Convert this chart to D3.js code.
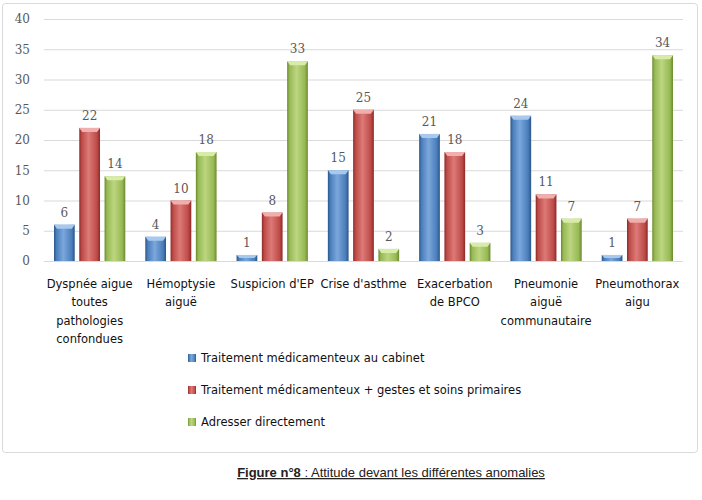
<!DOCTYPE html>
<html>
<head>
	<meta charset="utf-8">
	<script src="https://cdnjs.cloudflare.com/ajax/libs/d3/7.8.5/d3.min.js"></script>
	<style>
	body { margin: 0; background: #fff; }
	.grid line { stroke: #d9d9d9; }
	.axis-y text, .val { font: 12px "DejaVu Serif", serif; fill: #595959; }
	.cat, .legend text { font: 11.5px "DejaVu Sans", sans-serif; fill: #111; }
	</style>
</head>
<body>
	<svg width="702" height="500"></svg>
	<script>
	// categories and values
	let categories = [
		"Dyspnée aigue\ntoutes\npathologies\nconfondues",
		"Hémoptysie\naiguë",
		"Suspicion d'EP",
		"Crise d'asthme",
		"Exacerbation\nde BPCO",
		"Pneumonie\naiguë\ncommunautaire",
		"Pneumothorax\naigu"
	];
	let seriesNames = [
		"Traitement médicamenteux au cabinet",
		"Traitement médicamenteux + gestes et soins primaires",
		"Adresser directement"
	];
	let cabinet = [6, 4, 1, 15, 21, 24, 1];
	let gestes = [22, 10, 8, 25, 18, 11, 7];
	let adresser = [14, 18, 33, 2, 3, 7, 34];
	let yTicks = [0, 5, 10, 15, 20, 25, 30, 35, 40];

	let series = [cabinet, gestes, adresser];
	let colors = [
		{base: "#4a7ebb", light: "#7ba7dc", dark: "#2c5687", top: "#a9c8ee"},
		{base: "#be4b48", light: "#dc7a77", dark: "#8c2a28", top: "#f0aeac"},
		{base: "#98b954", light: "#bcd681", dark: "#6b8a30", top: "#d8ecaa"}
	];

	let svg = d3.select("svg"),
		margin = {top: 19, right: 19, bottom: 239, left: 44},
		width = 702 - margin.left - margin.right,
		height = 500 - margin.top - margin.bottom;

	// chart frame
	svg.append("rect")
		.attr("x", 2.5).attr("y", 3.5)
		.attr("width", 695).attr("height", 449)
		.attr("rx", 3)
		.attr("fill", "#fff")
		.attr("stroke", "#d9d9d9");

	let defs = svg.append("defs");
	colors.forEach(function(c, i) {
		let gr = defs.append("linearGradient").attr("id", "g" + i)
			.attr("x1", "0").attr("x2", "1").attr("y1", "0").attr("y2", "0");
		gr.append("stop").attr("offset", "0").attr("stop-color", c.dark);
		gr.append("stop").attr("offset", "0.12").attr("stop-color", c.base);
		gr.append("stop").attr("offset", "0.45").attr("stop-color", c.light);
		gr.append("stop").attr("offset", "0.85").attr("stop-color", c.base);
		gr.append("stop").attr("offset", "1").attr("stop-color", c.dark);
	});

	let g = svg.append("g").attr("transform", "translate(" + margin.left + "," + margin.top + ")");

	let x0 = d3.scaleBand().domain(categories).range([0, width]).paddingInner(0).paddingOuter(0);
	let x1 = d3.scaleBand().domain([0, 1, 2]).range([10, x0.bandwidth() - 10]).paddingInner(0.18).paddingOuter(0);
	let y = d3.scaleLinear().domain([0, 40]).range([height, 0]);

	// gridlines
	g.append("g").attr("class", "grid")
		.selectAll("line").data(yTicks).enter().append("line")
		.attr("x1", 0).attr("x2", width)
		.attr("y1", function(d) { return y(d) + 0.5; })
		.attr("y2", function(d) { return y(d) + 0.5; });

	// y axis
	let ya = g.append("g").attr("class", "axis-y")
		.call(d3.axisLeft(y).tickValues(yTicks).tickSize(0).tickPadding(14));
	ya.select(".domain").remove();

	// bars
	let grp = g.selectAll(".grp").data(categories).enter().append("g")
		.attr("class", "grp")
		.attr("transform", function(d) { return "translate(" + x0(d) + ",0)"; });

	grp.each(function(cat, ci) {
		let sel = d3.select(this);
		series.forEach(function(vals, si) {
			let v = vals[ci], bx = x1(si), bw = x1.bandwidth(), by = y(v), bh = height - y(v);
			sel.append("rect")
				.attr("x", bx).attr("y", by)
				.attr("width", bw).attr("height", bh)
				.attr("fill", "url(#g" + si + ")");
			// bevelled top
			let cap = Math.min(4, bh / 2);
			sel.append("path")
				.attr("d", "M" + bx + "," + by + "L" + (bx + bw) + "," + by +
					"L" + (bx + bw - 3) + "," + (by + cap) + "L" + (bx + 3) + "," + (by + cap) + "Z")
				.attr("fill", colors[si].top);
			sel.append("text")
				.attr("class", "val")
				.attr("x", bx + bw / 2)
				.attr("y", by - 8)
				.attr("text-anchor", "middle")
				.text(v);
		});
	});

	// category labels
	let cl = g.selectAll(".cat").data(categories).enter().append("text")
		.attr("class", "cat")
		.attr("text-anchor", "middle")
		.attr("transform", function(d) { return "translate(" + (x0(d) + x0.bandwidth() / 2) + "," + (height + 27) + ")"; });
	cl.each(function(d) {
		let t = d3.select(this);
		d.split("\n").forEach(function(line, i) {
			t.append("tspan").attr("x", 0).attr("y", i * 18.4).text(line);
		});
	});

	// legend
	let lg = svg.append("g").attr("class", "legend")
		.selectAll("g").data(seriesNames).enter().append("g")
		.attr("transform", function(d, i) { return "translate(188," + (358 + i * 32) + ")"; });
	lg.append("rect")
		.attr("x", 0).attr("y", -4)
		.attr("width", 8).attr("height", 8)
		.attr("fill", function(d, i) { return "url(#g" + i + ")"; });
	lg.append("text")
		.attr("x", 13).attr("dy", "0.35em")
		.text(function(d) { return d; });

	// figure caption
	let cap = svg.append("text")
		.attr("x", 391).attr("y", 477)
		.attr("text-anchor", "middle")
		.style("font", "13px 'Liberation Sans', sans-serif")
		.style("fill", "#222")
		.style("text-decoration", "underline");
	cap.append("tspan").style("font-weight", "bold").text("Figure n°8");
	cap.append("tspan").text(" : Attitude devant les différentes anomalies");
	</script>
</body>
</html>
